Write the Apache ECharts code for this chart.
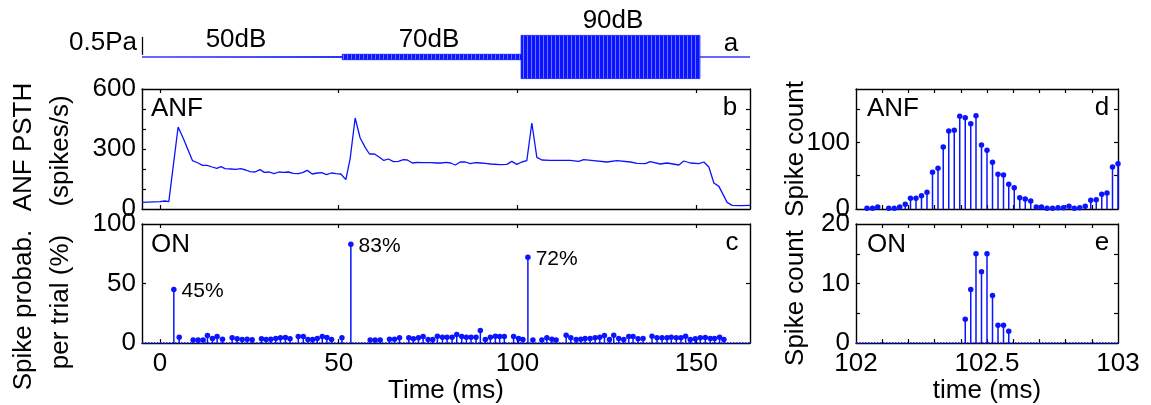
<!DOCTYPE html>
<html lang="en">
<head>
<meta charset="UTF-8">
<title>ANF / ON responses</title>
<script src="https://cdn.jsdelivr.net/npm/echarts@6.0.0/dist/echarts.min.js"></script>
<style>
  body { margin: 0; background: #fff; }
  #chart { width: 1151px; height: 405px; }
</style>
</head>
<body>
<div id="chart"></div>
<script>
// panel a: stimulus envelope (Pa) per level segment
const waveTimes = [-5, 1, 1, 51, 51, 101, 101, 151, 151, 165];
const waveAmp = [0, 0, 0.012, 0.012, 0.075, 0.075, 0.6, 0.6, 0, 0];
const scaleBarPa = [0.06, 0.56];

// panel b: ANF PSTH (spikes/s)
const psthTimes = [-5, 0, 1.4, 2.5, 5.1, 6.5, 9.1, 10.7, 11.9, 13.2, 14.6, 15.9, 17.1, 18.2, 19.9, 21.3,
  22.6, 24.0, 25.2, 26.6, 28.0, 29.2, 30.6, 31.9, 33.3, 34.5, 35.9, 37.3, 38.7, 39.9, 41.2, 42.6,
  44.0, 45.2, 46.6, 47.9, 49.3, 50.6, 52.0, 53.2, 54.6, 56.0, 57.4, 58.6, 60.0, 61.3, 62.6, 63.9,
  65.3, 66.7, 68.1, 69.2, 70.6, 72.0, 73.4, 74.6, 76.0, 77.2, 78.6, 80.0, 81.3, 82.6, 84.0, 85.4,
  86.8, 88.2, 89.6, 91.0, 92.4, 95.1, 97.0, 98.4, 99.8, 101.2, 102.6, 104.0, 105.4, 106.8, 109.1,
  111.9, 114.7, 117.1, 118.5, 121.3, 125.0, 127.8, 131.6, 133.4, 135.7, 137.1, 139.9, 141.8, 145.1,
  146.5, 148.3, 150.7, 152.1, 153.5, 154.9, 156.3, 158.6, 160.0, 162.4, 165];
const psthRates = [33, 37, 40, 37, 410, 355, 242, 230, 218, 218, 210, 203, 212, 202, 200, 198,
  202, 195, 187, 185, 197, 183, 185, 177, 185, 183, 185, 178, 177, 182, 193, 175,
  180, 182, 172, 180, 177, 175, 147, 252, 455, 355, 308, 275, 275, 260, 243, 250,
  237, 238, 247, 245, 230, 233, 232, 232, 232, 230, 230, 233, 230, 220, 235, 235,
  227, 232, 230, 228, 225, 222, 223, 238, 223, 235, 242, 430, 258, 245, 243,
  243, 243, 238, 247, 242, 235, 242, 235, 228, 227, 237, 225, 230, 220,
  240, 230, 227, 235, 210, 130, 113, 33, 18, 17, 18];

// panel c: ON spike probability per trial (%)
const onTimes = [3.9, 5.4, 9.3, 10.7, 12.1, 13.3, 14.7, 16.0, 17.5, 20.2, 21.6, 23.0, 24.4, 25.8,
  28.4, 29.7, 31.0, 32.4, 33.7, 35.1, 36.4, 38.7, 40.1, 41.4, 42.7, 44.0, 45.4, 46.7, 48.0, 50.9,
  53.4, 58.8, 60.2, 61.6, 64.2, 65.6, 67.0, 69.6, 70.9, 72.3, 73.6, 75.0, 76.3, 77.6, 79.0, 80.3,
  81.7, 83.0, 84.4, 85.7, 87.0, 88.4, 89.6, 91.0, 92.4, 93.8, 95.0, 96.3, 98.9, 100.3, 101.5,
  102.9, 104.3, 106.8, 108.2, 109.6, 110.8, 113.6, 114.9, 116.4, 117.7, 118.9, 120.3, 121.7,
  123.0, 124.3, 125.7, 126.9, 128.3, 129.7, 131.1, 132.3, 133.7, 135.1, 137.6, 139.0, 140.4,
  141.8, 143.0, 144.4, 145.7, 147.0, 148.3, 149.7, 151.1, 152.5, 153.9, 155.1, 156.5, 157.7];
const onProb = [45, 5, 2.5, 2.5, 2.5, 6.3, 3.9, 5.5, 3.3, 4.4, 3.6, 3, 3.3, 2.8,
  3.6, 3, 3.3, 3.9, 4.4, 4.7, 3.6, 5.5, 5.5, 3, 3, 3.9, 5.5, 4.7, 3, 4.4,
  83, 2.5, 2.5, 2.5, 3.3, 3.3, 4.4, 4.4, 3.6, 4.4, 5.5, 3, 3, 5.8, 5, 5,
  5, 7.2, 5.5, 5, 5, 5, 10.5, 3, 5, 5.8, 5.5, 5.5, 5.5, 3.9, 3,
  72, 2.5, 2.5, 4.4, 3.3, 2.5, 6.6, 4.4, 3, 3.3, 3.9, 3.9, 4.4,
  5, 6.3, 3, 6.6, 3.9, 3, 5.5, 5.5, 3.6, 3.9, 5.8, 4.4, 4.4,
  4.4, 5, 4.4, 4.4, 5.8, 3, 3.6, 4.4, 4.7, 3.9, 3.9, 5, 3];

// panel d: ANF spike count, 102-103 ms
const anfFineTimes = [102.042, 102.063, 102.083, 102.125, 102.146, 102.167, 102.188, 102.208,
  102.229, 102.25, 102.271, 102.292, 102.313, 102.333, 102.354, 102.375, 102.396, 102.417,
  102.438, 102.458, 102.479, 102.5, 102.521, 102.542, 102.563, 102.583, 102.604, 102.625,
  102.646, 102.667, 102.688, 102.708, 102.729, 102.75, 102.771, 102.792, 102.813, 102.833,
  102.854, 102.875, 102.896, 102.917, 102.938, 102.958, 102.979, 103.0];
const anfFineCounts = [1, 1, 3, 1, 1, 3, 7, 16, 16, 20, 25, 55, 61, 93, 117, 118, 139, 137, 128,
  140, 96, 88, 70, 52, 51, 37, 32, 17, 15, 12, 3, 3, 1, 1, 2, 2, 4, 1, 2, 4, 13, 14, 22, 24, 63, 68];

// panel e: ON spike count, 102-103 ms
const onFineTimes = [102.417, 102.438, 102.458, 102.479, 102.5, 102.521, 102.542, 102.563, 102.583];
const onFineCounts = [4, 9, 15, 12, 15, 8, 3, 3, 2];

const font = "'Liberation Sans', Arial, Helvetica, sans-serif";
const blue = '#0a14ff';
const zip = (xs, ys) => xs.map((x, i) => [x, ys[i]]);

// faint stripes so the tone bursts read as a dense carrier, not a flat block
const stripe = document.createElement('canvas');
stripe.width = 4;
stripe.height = 2;
const sctx = stripe.getContext('2d');
sctx.fillStyle = blue;
sctx.fillRect(0, 0, 3, 2);
sctx.fillStyle = '#6a72ff';
sctx.fillRect(3, 0, 1, 2);
const toneFill = { image: stripe, repeat: 'repeat' };

const grids = [
  { left: 142, top: 21, width: 608, height: 72 },   // a
  { left: 142, top: 89, width: 608, height: 120 },  // b
  { left: 142, top: 224, width: 608, height: 121 }, // c
  { left: 856, top: 89, width: 262, height: 120 },  // d
  { left: 856, top: 224, width: 262, height: 121 }  // e
];

const xAxis = [];
const yAxis = [];
const lbl = { color: '#000', fontSize: 26, fontFamily: font };

// box with inside ticks on all four sides
function frame(g, xr, yr, xTicks, yTicks, xLabels, yLabels, xName, show = true) {
  const common = {
    gridIndex: g, type: 'value', show: show,
    splitLine: { show: false },
    axisLine: { onZero: false, lineStyle: { color: '#000', width: 1.4 } }
  };
  const tick = vals => ({ inside: true, length: 4, customValues: vals, lineStyle: { color: '#000', width: 1.2 } });
  ['bottom', 'top'].forEach((pos, i) => xAxis.push(Object.assign({}, common, {
    position: pos, min: xr[0], max: xr[1],
    axisTick: tick(xTicks),
    axisLabel: i === 0 && xLabels ? Object.assign({ customValues: xLabels, margin: 8 }, lbl) : { show: false },
    name: i === 0 && xName ? xName : '',
    nameLocation: 'middle', nameGap: 31, nameTextStyle: lbl
  })));
  ['left', 'right'].forEach((pos, i) => yAxis.push(Object.assign({}, common, {
    position: pos, min: yr[0], max: yr[1],
    axisTick: tick(yTicks),
    axisLabel: i === 0 && yLabels ? Object.assign({ customValues: yLabels, margin: 6 }, lbl) : { show: false }
  })));
}

const msTicks = [0, 50, 100, 150];
const fineTicks = [102.1, 102.2, 102.3, 102.4, 102.5, 102.6, 102.7, 102.8, 102.9];

frame(0, [-5, 165], [-1, 1], [], [], null, null, null, false);
frame(1, [-5, 165], [0, 600], msTicks, [100, 200, 300, 400, 500], null, [0, 300, 600]);
frame(2, [-5, 165], [0, 100], msTicks, [50], msTicks, [0, 50, 100], 'Time (ms)');
frame(3, [102, 103], [0, 180], fineTicks, [50, 100, 150], null, [0, 100]);
frame(4, [102, 103], [0, 20], fineTicks, [5, 10, 15], [102, 102.5, 103], [0, 10, 20], 'time (ms)');

const zeroLine = {
  silent: true, symbol: 'none', label: { show: false },
  lineStyle: { color: blue, type: 'dotted', width: 1.5 },
  data: [{ yAxis: 0 }]
};

function stems(g, times, vals, opts = {}) {
  const data = zip(times, vals);
  return [
    { type: 'bar', xAxisIndex: 2 * g, yAxisIndex: 2 * g, data, barWidth: 1.5,
      itemStyle: { color: blue }, silent: true },
    Object.assign({ type: 'scatter', xAxisIndex: 2 * g, yAxisIndex: 2 * g, data, symbolSize: 5.5,
      itemStyle: { color: blue, opacity: 1 } }, opts)
  ];
}

const text = (t, x, y, extra = {}) => ({
  type: 'text', x, y, silent: true,
  style: Object.assign({ text: t, fill: '#000', font: `26px ${font}`, align: 'center', verticalAlign: 'middle' }, extra)
});
const vtext = (t, x, y) => Object.assign(text(t, x, y), { rotation: Math.PI / 2 });

const chart = echarts.init(document.getElementById('chart'));
chart.setOption({
  animation: false,
  backgroundColor: '#fff',
  grid: grids,
  xAxis,
  yAxis,
  series: [
    { type: 'line', xAxisIndex: 0, yAxisIndex: 0, symbol: 'none', silent: true,
      data: zip(waveTimes, waveAmp),
      lineStyle: { color: blue, width: 0.8 }, areaStyle: { color: toneFill, opacity: 1, origin: 0 },
      markLine: { silent: true, symbol: 'none', label: { show: false },
        lineStyle: { color: '#000', type: 'solid', width: 1.3 },
        data: [[{ coord: [-5, scaleBarPa[0]] }, { coord: [-5, scaleBarPa[1]] }]] } },
    { type: 'line', xAxisIndex: 0, yAxisIndex: 0, symbol: 'none', silent: true,
      data: zip(waveTimes, waveAmp.map(v => -v)),
      lineStyle: { color: blue, width: 0.8 }, areaStyle: { color: toneFill, opacity: 1, origin: 0 } },
    { type: 'line', xAxisIndex: 2, yAxisIndex: 2, symbol: 'none', silent: true,
      data: zip(psthTimes, psthRates), lineStyle: { color: blue, width: 1.3 } },
    ...stems(2, onTimes, onProb, {
      label: { show: true, position: 'right', distance: 5, offset: [0, 2], color: '#000',
        fontSize: 21, fontFamily: font,
        formatter: p => (p.value[1] > 20 ? p.value[1] + '%' : '') },
      markLine: zeroLine
    }),
    ...stems(3, anfFineTimes, anfFineCounts),
    ...stems(4, onFineTimes, onFineCounts, { markLine: zeroLine })
  ],
  graphic: [
    text('0.5Pa', 137, 43, { align: 'right' }),
    text('50dB', 236, 40),
    text('70dB', 429, 40),
    text('90dB', 613, 21),
    text('a', 731, 44),
    text('ANF', 151, 109, { align: 'left' }),
    text('b', 730, 108),
    text('ON', 151, 245, { align: 'left' }),
    text('c', 732, 243),
    text('ANF', 867, 109, { align: 'left' }),
    text('d', 1102, 108),
    text('ON', 867, 245, { align: 'left' }),
    text('e', 1102, 243),
    vtext('ANF PSTH', 24, 147),
    vtext('(spikes/s)', 61, 151),
    vtext('Spike probab.', 24, 310),
    vtext('per trial (%)', 61, 302),
    vtext('Spike count', 796, 149),
    vtext('Spike count', 796, 298)
  ]
});
</script>
</body>
</html>
